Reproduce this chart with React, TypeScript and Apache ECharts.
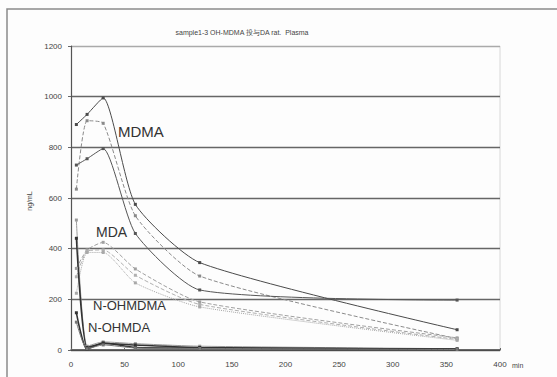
import React, { useEffect, useRef } from "react";
import * as echarts from "echarts";

const times = [5, 15, 30, 60, 120, 360];
const xTicks = [0, 50, 100, 150, 200, 250, 300, 350, 400];
const yTicks = [0, 200, 400, 600, 800, 1000, 1200];

const mdma1 = [890, 930, 995, 575, 345, 80];
const mdma2 = [635, 905, 895, 530, 292, 45];
const mdma3 = [730, 755, 795, 460, 237, 197];
const mda1 = [322, 395, 425, 320, 190, 48];
const mda2 = [289, 390, 395, 295, 180, 42];
const mda3 = [224, 385, 385, 265, 170, 38];
const nohmdma1 = [513, 15, 32, 25, 15, 5];
const nohmdma2 = [441, 10, 26, 20, 10, 3];
const nohmda1 = [147, 3, 28, 10, 8, 4];
const nohmda2 = [110, 5, 20, 8, 6, 2];

const title = "sample1-3 OH-MDMA 投与DA rat.  Plasma";

type S = { name: string; vals: number[]; color: string; type: string; width: number };
const seriesDefs: S[] = [
  { name: "MDMA-1", vals: mdma1, color: "#4a4a4a", type: "solid", width: 1 },
  { name: "MDMA-2", vals: mdma2, color: "#8a8a8a", type: "dashed", width: 1 },
  { name: "MDMA-3", vals: mdma3, color: "#555555", type: "solid", width: 1 },
  { name: "MDA-1", vals: mda1, color: "#a0a0a0", type: "dashed", width: 1 },
  { name: "MDA-2", vals: mda2, color: "#b0b0b0", type: "dashed", width: 1 },
  { name: "MDA-3", vals: mda3, color: "#a8a8a8", type: "dotted", width: 1 },
  { name: "N-OHMDMA-1", vals: nohmdma1, color: "#9a9a9a", type: "solid", width: 1 },
  { name: "N-OHMDMA-2", vals: nohmdma2, color: "#333333", type: "solid", width: 1.5 },
  { name: "N-OHMDA-1", vals: nohmda1, color: "#333333", type: "solid", width: 1.5 },
  { name: "N-OHMDA-2", vals: nohmda2, color: "#777777", type: "solid", width: 1 },
];

export default function App() {
  const ref = useRef<HTMLDivElement>(null);
  useEffect(() => {
    if (!ref.current) return;
    const chart = echarts.init(ref.current, undefined, { renderer: "svg" });
    const font = "Liberation Sans, Arial, sans-serif";
    chart.setOption({
      animation: false,
      backgroundColor: "#fdfdfd",
      grid: { left: 71, right: 57, top: 46, bottom: 27, show: false },
      xAxis: {
        type: "value",
        min: 0,
        max: 400,
        interval: 50,
        axisLine: { show: true, onZero: false, lineStyle: { color: "#444", width: 1.5 } },
        axisTick: { show: true, inside: true, length: 2, lineStyle: { color: "#666" } },
        splitLine: { show: false },
        axisLabel: {
          color: "#444",
          fontSize: 8,
          fontFamily: font,
          margin: 10,
          formatter: (v: number) => (xTicks.includes(v) ? String(v) : ""),
        },
      },
      yAxis: {
        type: "value",
        min: 0,
        max: 1200,
        interval: 200,
        axisLine: { show: true, lineStyle: { color: "#555", width: 1.2 } },
        axisTick: { show: true, length: 3, lineStyle: { color: "#666" } },
        splitLine: {
          show: true,
          lineStyle: { color: ["#666", "#666", "#666", "#666", "#666", "#666", "#aaa"], width: 1.3 },
        },
        axisLabel: {
          color: "#444",
          fontSize: 8,
          fontFamily: font,
          margin: 9,
          formatter: (v: number) => (yTicks.includes(v) ? String(v) : ""),
        },
      },
      series: seriesDefs.map((s) => ({
        name: s.name,
        type: "line",
        smooth: 0.2,
        data: times.map((t, i) => [t, s.vals[i]]),
        symbol: "rect",
        symbolSize: 3,
        itemStyle: { color: s.color },
        lineStyle: { color: s.color, type: s.type, width: s.width },
      })),
      graphic: [
        {
          type: "rect",
          shape: { x: 7, y: 9, width: 600, height: 400 },
          style: { fill: "none", stroke: "#8a8a8a", lineWidth: 1.5 },
          silent: true,
        },
        {
          type: "line",
          shape: { x1: 500, y1: 46, x2: 500, y2: 350 },
          style: { stroke: "#d8d8d8", lineWidth: 1 },
          silent: true,
        },
        {
          type: "text",
          x: 242,
          y: 32,
          style: { text: title, fontSize: 7, fontFamily: font, fill: "#444", align: "center", verticalAlign: "middle" },
        },
        {
          type: "text",
          x: 29,
          y: 201,
          rotation: Math.PI / 2,
          style: { text: "ng/mL", fontSize: 7, fontFamily: font, fill: "#444", align: "center", verticalAlign: "middle" },
        },
        {
          type: "text",
          x: 512,
          y: 365,
          style: { text: "min", fontSize: 7, fontFamily: font, fill: "#444", align: "left", verticalAlign: "middle" },
        },
        {
          type: "text",
          x: 118,
          y: 131,
          style: { text: "MDMA", fontSize: 15, fontFamily: font, fill: "#333", align: "left", verticalAlign: "middle" },
        },
        {
          type: "text",
          x: 96,
          y: 232,
          style: { text: "MDA", fontSize: 14, fontFamily: font, fill: "#333", align: "left", verticalAlign: "middle" },
        },
        {
          type: "text",
          x: 93,
          y: 305,
          style: { text: "N-OHMDMA", fontSize: 13, fontFamily: font, fill: "#333", align: "left", verticalAlign: "middle" },
        },
        {
          type: "text",
          x: 88,
          y: 327,
          style: { text: "N-OHMDA", fontSize: 13, fontFamily: font, fill: "#333", align: "left", verticalAlign: "middle" },
        },
      ],
    });
    return () => chart.dispose();
  }, []);
  return <div ref={ref} style={{ position: "fixed", left: 0, top: 0, width: 557, height: 377 }} />;
}
